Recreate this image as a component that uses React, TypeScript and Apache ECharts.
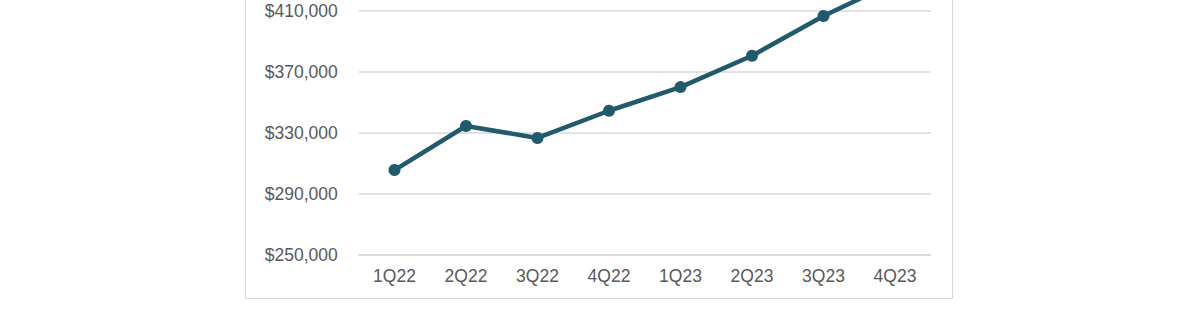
import React, { useEffect, useRef } from "react";
import * as echarts from "echarts";

const categories = ["1Q22", "2Q22", "3Q22", "4Q22", "1Q23", "2Q23", "3Q23", "4Q23"];
const values = [305600, 334400, 326600, 344400, 359900, 380400, 406400, 428700];

const TOP = -70;
const H = 381;

export default function App() {
  const ref = useRef<HTMLDivElement>(null);
  useEffect(() => {
    if (!ref.current) return;
    const chart = echarts.init(ref.current, undefined, { renderer: "svg" });
    chart.setOption({
      animation: false,
      grid: { left: 358.75, right: 269.25, top: 19.4, bottom: 56, containLabel: false },
      xAxis: {
        type: "category",
        data: categories,
        boundaryGap: true,
        axisLine: { show: true, lineStyle: { color: "#d9d9d9", width: 1.5 } },
        axisTick: { show: false },
        axisLabel: { color: "#595959", fontSize: 17.5, fontFamily: "Liberation Sans, Arial, sans-serif", margin: 12 },
      },
      yAxis: {
        type: "value",
        min: 250000,
        max: 450000,
        interval: 40000,
        axisLine: { show: false },
        axisTick: { show: false },
        splitLine: { lineStyle: { color: "#d9d9d9", width: 1.5 } },
        axisLabel: {
          color: "#595959",
          fontSize: 17.5,
          fontFamily: "Liberation Sans, Arial, sans-serif",
          margin: 21,
          showMaxLabel: false,
          formatter: (v: number) => "$" + v.toLocaleString("en-US"),
        },
      },
      series: [
        {
          type: "line",
          data: values,
          lineStyle: { color: "#215a6d", width: 4.5 },
          itemStyle: { color: "#215a6d" },
          symbol: "circle",
          symbolSize: 12,
          clip: false,
        },
      ],
    });
    return () => chart.dispose();
  }, []);
  return (
    <div>
      <div
        style={{
          position: "absolute",
          left: 245,
          top: -20,
          width: 706,
          height: 317,
          border: "1.5px solid #d9d9d9",
          boxSizing: "content-box",
        }}
      />
      <div ref={ref} style={{ position: "absolute", left: 0, top: TOP, width: 1200, height: H }} />
    </div>
  );
}
